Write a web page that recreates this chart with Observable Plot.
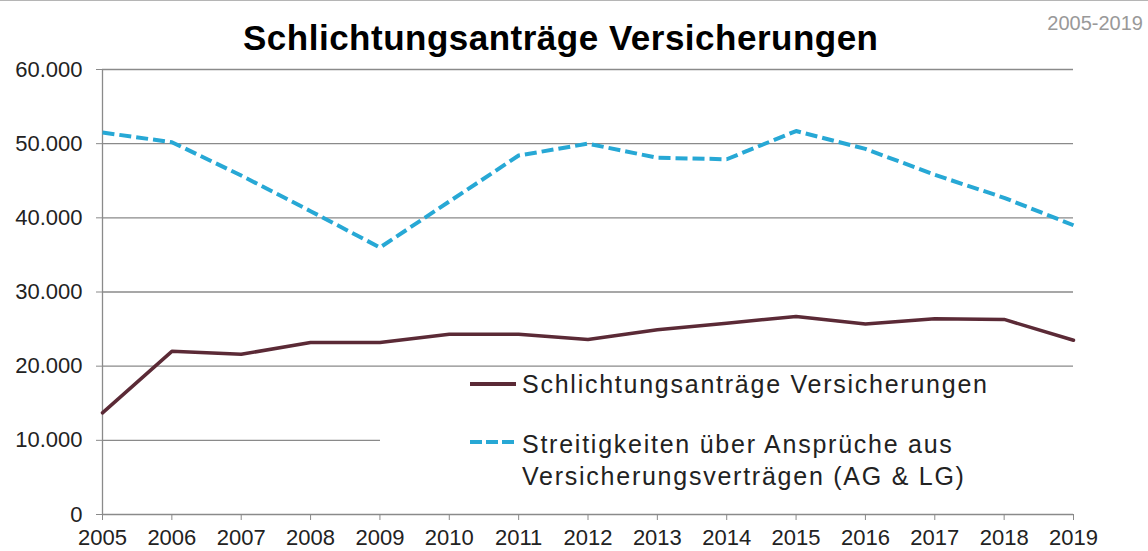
<!DOCTYPE html>
<html><head><meta charset="utf-8">
<script src="https://cdn.jsdelivr.net/npm/d3@7"></script>
<script src="https://cdn.jsdelivr.net/npm/@observablehq/plot@0.6"></script>
<style>
body{margin:0;background:#fff;font-family:"Liberation Sans",Arial,sans-serif;}
#wrap{position:relative;width:1148px;height:551px;overflow:hidden;}
#header{position:relative;height:51px;border-top:1px solid #b5b5b5;}
#title{position:absolute;left:243px;top:19px;font-size:35px;line-height:35px;font-weight:bold;color:#000;letter-spacing:0.5px;white-space:nowrap;z-index:2;}
#range{position:absolute;right:5px;top:12px;font-size:20px;line-height:20px;color:#999;white-space:nowrap;}
#legbox{position:absolute;left:380px;top:369px;width:768px;height:130px;background:#fff;}
.lt{position:absolute;left:522px;font-size:25px;line-height:32px;color:#222;letter-spacing:1.75px;white-space:nowrap;}
.ls{position:absolute;left:470px;}
</style></head><body>
<div id="wrap">
  <div id="header">
    <div id="title">Schlichtungsanträge Versicherungen</div>
    <div id="range">2005-2019</div>
  </div>
  <div id="chart"></div>
  <div id="legbox"></div>
  <svg class="ls" style="top:378px" width="50" height="12"><line x1="0" x2="46" y1="6" y2="6" stroke="#5B2A36" stroke-width="4"/></svg>
  <div class="lt" style="top:368px">Schlichtungsanträge Versicherungen</div>
  <svg class="ls" style="top:436px" width="50" height="12"><line x1="0" x2="44" y1="6" y2="6" stroke="#27A8D5" stroke-width="4" stroke-dasharray="12,4"/></svg>
  <div class="lt" style="top:428px">Streitigkeiten über Ansprüche aus</div>
  <div class="lt" style="top:460px">Versicherungsverträgen (AG &amp; LG)</div>
</div>
<script>
const years = [2005, 2006, 2007, 2008, 2009, 2010, 2011, 2012, 2013, 2014, 2015, 2016, 2017, 2018, 2019];
const schlichtungsantraege = [13700, 22000, 21600, 23200, 23200, 24300, 24300, 23600, 24900, 25800, 26700, 25700, 26400, 26300, 23500];
const streitigkeiten = [51500, 50200, 45700, 40900, 36000, 42200, 48400, 50000, 48100, 47900, 51700, 49300, 45800, 42700, 39000];
const yTicks = [0, 10000, 20000, 30000, 40000, 50000, 60000];

const rowsA = years.map((y, i) => ({year: y, value: schlichtungsantraege[i]}));
const rowsB = years.map((y, i) => ({year: y, value: streitigkeiten[i]}));
const fmt = d => d3.format(",")(d).replace(/,/g, ".");

const chart = Plot.plot({
  width: 1148,
  height: 499,
  marginLeft: 102,
  marginRight: 75,
  marginTop: 17,
  marginBottom: 37,
  style: {fontFamily: "'Liberation Sans', Arial, sans-serif", background: "transparent"},
  x: {type: "linear", domain: [years[0], years[years.length - 1]]},
  y: {domain: [0, 60000]},
  marks: [
    Plot.gridY(yTicks, {stroke: "#8a8a8a", strokeOpacity: 1, strokeWidth: 1.3}),
    Plot.ruleX([years[0]], {stroke: "#8a8a8a", strokeWidth: 1.3}),
    Plot.axisY({ticks: yTicks, tickFormat: fmt, tickSize: 6, tickPadding: 14, fontSize: 22, stroke: "#8a8a8a", fill: "#222", label: null}),
    Plot.axisX({ticks: years, tickFormat: d => String(d), tickSize: 6, tickPadding: 9, fontSize: 22, stroke: "#8a8a8a", fill: "#222", label: null}),
    Plot.line(rowsB, {x: "year", y: "value", stroke: "#27A8D5", strokeWidth: 4, strokeDasharray: "12,5", strokeLinecap: "butt", strokeLinejoin: "round"}),
    Plot.line(rowsA, {x: "year", y: "value", stroke: "#5B2A36", strokeWidth: 3.5, strokeLinejoin: "round"})
  ]
});
document.getElementById("chart").appendChild(chart);
</script>
</body></html>
